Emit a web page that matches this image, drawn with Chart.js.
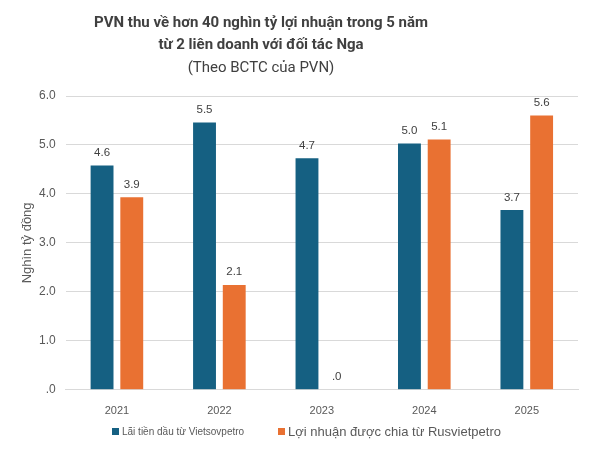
<!DOCTYPE html>
<html>
<head>
<meta charset="utf-8">
<script src="https://cdn.jsdelivr.net/npm/chart.js@4.4.1/dist/chart.umd.min.js"></script>
<style>
  html, body { margin: 0; padding: 0; background: #fff; }
  #wrap { width: 592px; height: 451px; }
</style>
</head>
<body>
<div id="wrap"><canvas id="pvnChart" width="592" height="451"></canvas></div>
<script>
var years = ['2021', '2022', '2023', '2024', '2025'];
var vietsovpetro = [4.58, 5.46, 4.73, 5.03, 3.67];
var rusvietpetro = [3.93, 2.14, 0, 5.11, 5.60];
var seriesNames = ['Lãi tiền dầu từ Vietsovpetro', 'Lợi nhuận được chia từ Rusvietpetro'];
var yTicks = [0, 1, 2, 3, 4, 5, 6];
var titleLines = ['PVN thu về hơn 40 nghìn tỷ lợi nhuận trong 5 năm', 'từ 2 liên doanh với đối tác Nga'];
var subtitleText = '(Theo BCTC của PVN)';
var yTitle = 'Nghìn tỷ đồng';

function fmt(v) {
  var s = v.toFixed(1);
  return s.indexOf('0.') === 0 ? s.substring(1) : s;
}

// title block, centred a bit left of the canvas like the source
var titleBlock = {
  id: 'titleBlock',
  afterDraw: function(chart) {
    var ctx = chart.ctx;
    ctx.save();
    ctx.textAlign = 'center';
    ctx.textBaseline = 'middle';
    ctx.fillStyle = '#404040';
    ctx.font = 'bold 15px Roboto, sans-serif';
    ctx.fillText(titleLines[0], 261, 23);
    ctx.fillText(titleLines[1], 261, 45);
    ctx.font = '15px Roboto, sans-serif';
    ctx.fillText(subtitleText, 261, 68);
    // y axis title
    var a = chart.chartArea;
    ctx.translate(27, (a.top + a.bottom) / 2);
    ctx.rotate(-Math.PI / 2);
    ctx.fillStyle = '#595959';
    ctx.font = '13px "Liberation Sans", Arial, sans-serif';
    ctx.fillText(yTitle, 0, 0);
    ctx.restore();
  }
};

// labels above each bar
var barLabels = {
  id: 'barLabels',
  afterDatasetsDraw: function(chart) {
    var ctx = chart.ctx;
    ctx.save();
    ctx.font = '11.5px "Liberation Sans", Arial, sans-serif';
    ctx.fillStyle = '#404040';
    ctx.textAlign = 'center';
    ctx.textBaseline = 'bottom';
    chart.data.datasets.forEach(function(ds, i) {
      chart.getDatasetMeta(i).data.forEach(function(bar, j) {
        ctx.fillText(fmt(ds.data[j]), bar.x, bar.y - 7);
      });
    });
    ctx.restore();
  }
};

// legend with two different text sizes like the original
var bottomLegend = {
  id: 'bottomLegend',
  afterDraw: function(chart) {
    var ctx = chart.ctx;
    var items = [
      { x: 112, size: 10 },
      { x: 278, size: 13 }
    ];
    ctx.save();
    ctx.textBaseline = 'middle';
    ctx.textAlign = 'left';
    chart.data.datasets.forEach(function(ds, i) {
      var it = items[i];
      ctx.fillStyle = ds.backgroundColor;
      ctx.fillRect(it.x, 428, 7, 7);
      ctx.fillStyle = '#595959';
      ctx.font = it.size + 'px "Liberation Sans", Arial, sans-serif';
      ctx.fillText(ds.label, it.x + 10, 432);
    });
    ctx.restore();
  }
};

new Chart(document.getElementById('pvnChart'), {
  type: 'bar',
  data: {
    labels: years,
    datasets: [
      {
        label: seriesNames[0],
        data: vietsovpetro,
        backgroundColor: '#156082',
        categoryPercentage: 0.58,
        barPercentage: 0.77
      },
      {
        label: seriesNames[1],
        data: rusvietpetro,
        backgroundColor: '#e97132',
        categoryPercentage: 0.58,
        barPercentage: 0.77
      }
    ]
  },
  options: {
    responsive: false,
    animation: false,
    layout: { padding: { left: 29, right: 14, top: 96, bottom: 26 } },
    plugins: {
      legend: { display: false },
      tooltip: { enabled: false },
      title: { display: false }
    },
    scales: {
      x: {
        grid: { display: false },
        border: { color: '#d9d9d9' },
        ticks: { color: '#595959', font: { family: '"Liberation Sans", Arial, sans-serif', size: 11 }, padding: 7 }
      },
      y: {
        min: 0,
        max: 6,
        afterBuildTicks: function(axis) {
          axis.ticks = yTicks.map(function(v) { return { value: v }; });
        },
        grid: { color: '#d9d9d9', drawTicks: false },
        border: { display: false },
        ticks: {
          color: '#595959',
          font: { family: '"Liberation Sans", Arial, sans-serif', size: 12 },
          padding: 10,
          callback: function(v) { return fmt(v); }
        }
      }
    }
  },
  plugins: [barLabels, bottomLegend, titleBlock]
});
</script>
</body>
</html>
